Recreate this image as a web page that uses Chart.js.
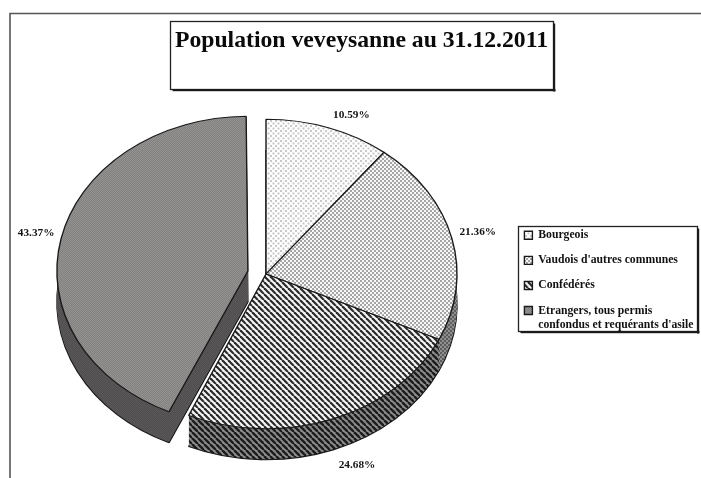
<!DOCTYPE html>
<html>
<head>
<meta charset="utf-8">
<style>
  html, body { margin: 0; padding: 0; background: #fff; }
  #wrap { width: 701px; height: 478px; }
  canvas { filter: blur(0.45px); }
</style>
<script src="https://cdn.jsdelivr.net/npm/chart.js@4"></script>
</head>
<body>
<div id="wrap"><canvas id="myChart" width="701" height="478"></canvas></div>
<script>
// Data
const chartTitle = "Population veveysanne au 31.12.2011";
const categories = [
    "Bourgeois",
    "Vaudois d'autres communes",
    "Confédérés",
    ["Etrangers, tous permis", "confondus et requérants d'asile"]
];
const shares = [10.59, 21.36, 24.68, 43.37];
const shareLabels = ["10.59%", "21.36%", "24.68%", "43.37%"];

// Layout of the tilted pie
const pieCenter = { x: 266, y: 274 };
const pieRadius = 191;
const squash = 0.81;     // ellipse height / width
const depth = 31;        // thickness of the 3D wall
const explode = [0, 0, 0, 74]; // Chart.js moves an arc by offset / 4
const labelNudge = [[23, -13], [26, -6], [24, 46], [-43, -9]];
const fontFamily = "'Liberation Serif', 'Times New Roman', serif";

// Small tiled patterns, like the hatchings of the old office chart
function makePattern(size, bg, paint) {
    const c = document.createElement('canvas');
    c.width = c.height = size;
    const g = c.getContext('2d');
    g.fillStyle = bg;
    g.fillRect(0, 0, size, size);
    paint(g);
    return document.createElement('canvas').getContext('2d').createPattern(c, 'repeat');
}
function dots(size, bg, fg, s) {
    return makePattern(size, bg, g => {
        g.fillStyle = fg;
        g.fillRect(0, 0, s, s);
        g.fillRect(size / 2, size / 2, s, s);
    });
}
function stripes(size, bg, fg, w) {
    return makePattern(size, bg, g => {
        g.strokeStyle = fg;
        g.lineWidth = w;
        for (let i = -size; i <= size; i += size) {
            g.beginPath();
            g.moveTo(i, 0);
            g.lineTo(i + size, size);
            g.stroke();
        }
    });
}
const topFills = [
    dots(5, '#ffffff', '#c8c8c8', 2),
    dots(4, '#f8f8f8', '#a6a6a6', 2),
    stripes(6, '#f6f6f6', '#2a2a2a', 2.2),
    dots(2, '#9a9797', '#7f7c7c', 1)
];
const wallFills = [
    dots(4, '#8a8a8a', '#6a6a6a', 2),
    dots(4, '#909090', '#5c5c5c', 2),
    stripes(6, '#8c8c8c', '#1c1c1c', 2.4),
    dots(2, '#5b5959', '#4f4d4d', 1)
];

function lockPattern(ctx, fills) {
    // keep the hatching in screen space whatever the transform is
    const m = ctx.getTransform().inverse();
    fills.forEach(p => p.setTransform(m));
}

function drawBox(ctx, x, y, w, h) {
    ctx.fillStyle = '#fff';
    ctx.fillRect(x, y, w, h);
    ctx.strokeStyle = '#222';
    ctx.lineWidth = 1.3;
    ctx.strokeRect(x, y, w, h);
    ctx.fillStyle = '#1a1a1a';
    ctx.fillRect(x + 2, y + h - 0.5, w, 2.2);
    ctx.fillRect(x + w - 0.5, y + 2, 2.2, h);
}

const pagePlugin = {
    id: 'page',
    afterLayout(chart) {
        // title and legend sit where the original put them, not where the layout wants
        const t = chart.titleBlock;
        t.left += 11;
        t.right += 11;
        const l = chart.legend;
        const w = l.width, h = l.height;
        l.left = 511;
        l.right = l.left + w;
        l.top = 216;
        l.bottom = l.top + h;
    },
    afterDatasetsUpdate(chart) {
        // ArcElement widens an offset arc as well, take that back
        chart.getDatasetMeta(0).data.forEach((arc, i) => {
            const sweep = Math.min(Math.PI, arc.circumference);
            arc.outerRadius = pieRadius - explode[i] / 4 * (1 - Math.sin(sweep));
        });
    },
    beforeDraw(chart) {
        const ctx = chart.ctx;
        ctx.save();
        ctx.fillStyle = '#fff';
        ctx.fillRect(0, 0, chart.width, chart.height);
        ctx.strokeStyle = '#555';
        ctx.lineWidth = 1.6;
        ctx.beginPath();
        ctx.moveTo(10, chart.height);
        ctx.lineTo(10, 13.5);
        ctx.lineTo(chart.width, 13.5);
        ctx.stroke();
        drawBox(ctx, 170.5, 21.5, 383, 68);
        drawBox(ctx, 518.5, 226.5, 179, 105);
        ctx.restore();
    },
    beforeDatasetDraw(chart, args) {
        const ctx = chart.ctx;
        const arcs = args.meta.data;
        ctx.save();
        ctx.translate(pieCenter.x, pieCenter.y);
        ctx.scale(1, squash);
        ctx.translate(-arcs[0].x, -arcs[0].y);
        // wall: the same arcs pushed down step by step, deepest first
        arcs.forEach((arc, i) => {
            const original = arc.options;
            for (let step = depth; step >= 1; step--) {
                ctx.save();
                ctx.translate(0, step / squash);
                lockPattern(ctx, wallFills);
                arc.options = Object.assign({}, original, {
                    backgroundColor: wallFills[i],
                    borderWidth: step === depth ? 1.4 : 0
                });
                arc.draw(ctx);
                ctx.restore();
            }
            arc.options = original;
        });
        lockPattern(ctx, topFills);
    },
    afterDatasetDraw(chart) {
        chart.ctx.restore();
    },
    afterDraw(chart) {
        const ctx = chart.ctx;
        const arcs = chart.getDatasetMeta(0).data;
        ctx.save();
        ctx.font = "bold 11.3px " + fontFamily;
        ctx.fillStyle = '#111';
        ctx.textAlign = 'center';
        ctx.textBaseline = 'middle';
        arcs.forEach((arc, i) => {
            const mid = (arc.startAngle + arc.endAngle) / 2;
            const x = pieCenter.x + Math.cos(mid) * pieRadius + labelNudge[i][0];
            const y = pieCenter.y + Math.sin(mid) * pieRadius * squash + labelNudge[i][1];
            ctx.fillText(shareLabels[i], x, y);
        });
        ctx.restore();
    }
};

new Chart(document.getElementById('myChart').getContext('2d'), {
    type: 'pie',
    data: {
        labels: categories,
        datasets: [{
            data: shares,
            backgroundColor: topFills,
            borderColor: '#1a1a1a',
            borderWidth: 1.4,
            offset: explode,
            hoverOffset: 0,
            clip: false
        }]
    },
    options: {
        responsive: false,
        animation: false,
        radius: pieRadius,
        events: [],
        layout: { padding: 0 },
        plugins: {
            title: {
                display: true,
                text: chartTitle,
                color: '#0a0a0a',
                font: { family: fontFamily, size: 23.7, weight: 'bold' },
                padding: { top: 27, bottom: 15 }
            },
            legend: {
                display: true,
                position: 'right',
                align: 'start',
                labels: {
                    boxWidth: 8,
                    boxHeight: 8,
                    padding: 13.4,
                    color: '#111',
                    font: { family: fontFamily, size: 11.7, weight: 'bold', lineHeight: 1.2 }
                }
            },
            tooltip: { enabled: false }
        }
    },
    plugins: [pagePlugin]
});
</script>
</body>
</html>
